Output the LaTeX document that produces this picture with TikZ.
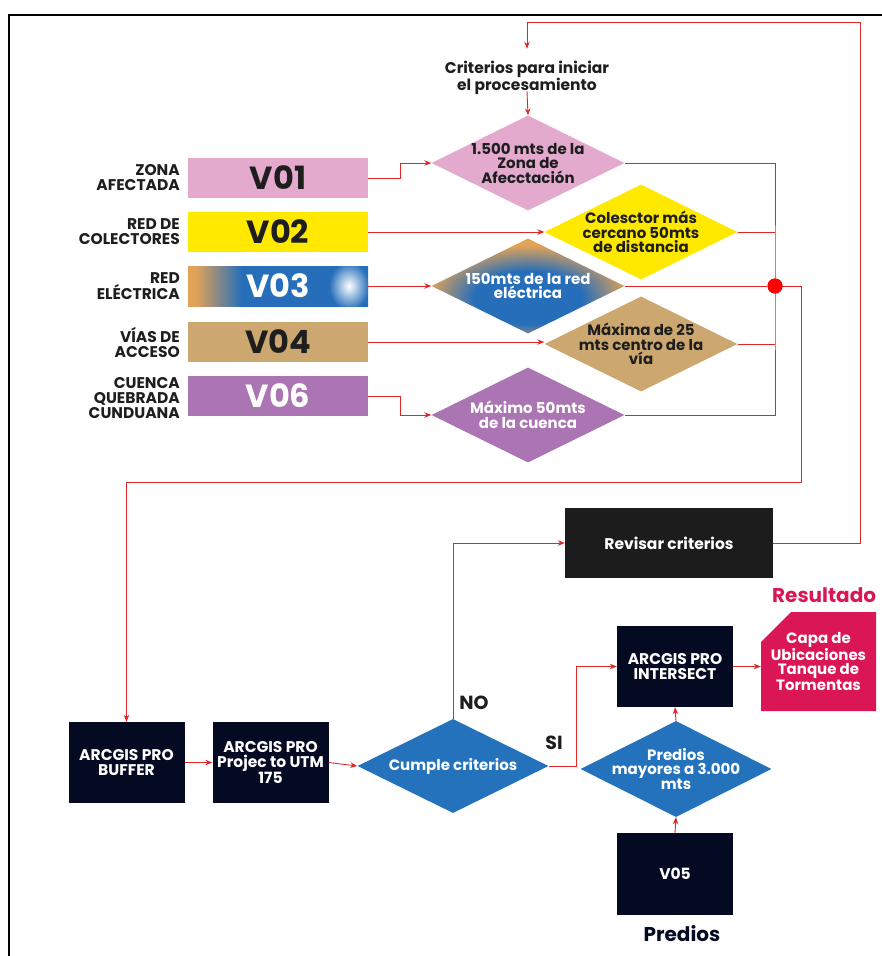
\documentclass[tikz,border=0pt]{standalone}
\usepackage{fontspec}
\setmainfont{Poppins}
\usetikzlibrary{shapes.geometric,arrows.meta}
\definecolor{vpink}{RGB}{228,170,206}
\definecolor{vyellow}{RGB}{255,233,0}
\definecolor{vtan}{RGB}{204,168,112}
\definecolor{vpurple}{RGB}{170,117,178}
\definecolor{vorange}{RGB}{226,162,88}
\definecolor{vblue}{RGB}{38,110,186}
\definecolor{dblue}{RGB}{35,114,187}
\definecolor{navy}{RGB}{5,10,35}
\definecolor{revc}{RGB}{28,28,28}
\definecolor{crim}{RGB}{218,22,84}
\definecolor{lred}{RGB}{222,40,40}
\definecolor{txt}{RGB}{30,30,30}
\pgfdeclarehorizontalshading{vthree}{100bp}{color(0bp)=(vorange); color(27bp)=(vorange); color(40bp)=(vblue); color(100bp)=(vblue)}
\pgfdeclareradialshading{dthree}{\pgfpoint{0bp}{-8bp}}{color(0bp)=(vblue); color(14bp)=(vblue); color(26bp)=(vorange); color(60bp)=(vorange)}
\begin{document}
\begin{tikzpicture}[x=1pt,y=-1pt,
  vbox/.style={rectangle, minimum width=180pt, minimum height=40pt, inner sep=0pt,
    font=\bfseries\fontsize{32}{32}\selectfont},
  lbl/.style={align=right, anchor=east, inner sep=0pt, text=txt,
    font=\bfseries\fontsize{15.5}{15}\selectfont},
  dia/.style={diamond, aspect=2, minimum width=193pt, minimum height=95pt, inner xsep=-14pt, inner ysep=-2pt,
    align=center, text=txt, font=\bfseries\fontsize{15}{14.5}\selectfont},
  bdia/.style={dia, fill=dblue, text=white, font=\bfseries\fontsize{15}{14.5}\selectfont},
  dbox/.style={rectangle, fill=navy, text=white, inner sep=0pt, align=center,
    minimum width=116pt, minimum height=81pt, font=\bfseries\fontsize{15.5}{15}\selectfont},
  ln/.style={draw=lred, line width=0.9pt},
  arr/.style={ln, -{Stealth[length=7pt,width=5.5pt]}},
  big/.style={font=\bfseries\fontsize{20}{20}\selectfont, inner sep=0pt},
  yn/.style={font=\bfseries\fontsize{19}{19}\selectfont, inner sep=0pt, text=txt}
]
\useasboundingbox (0,0) rectangle (882,956);
\draw[line width=1.3pt] (9,956) -- (9,15) -- (882,15);

% criteria header
\node[align=center, inner sep=0pt, text=txt, font=\bfseries\fontsize{15.5}{15}\selectfont] (crit) at (527,78)
  {Criterios para iniciar\\el procesamiento};

% variable boxes
\node[vbox, fill=vpink, text=txt] (v1) at (278,178) {V01};
\node[vbox, fill=vyellow, text=txt] (v2) at (278,232) {V02};
\node[vbox, text=white, path picture={
    \shade[shading=vthree] (path picture bounding box.south west) rectangle (path picture bounding box.north east);
    \shade[inner color=white, outer color=vblue] ([xshift=-19pt]path picture bounding box.east) ellipse (20pt and 24pt);
  }] (v3) at (278,286) {V03};
\node[vbox, fill=vtan, text=txt] (v4) at (278,342) {V04};
\node[vbox, fill=vpurple, text=white] (v6) at (278,396) {V06};

\node[lbl] (l1) at (180,178) {ZONA\\AFECTADA};
\node[lbl] (l2) at (180,232) {RED DE\\COLECTORES};
\node[lbl] (l3) at (180,286) {RED\\ELÉCTRICA};
\node[lbl] (l4) at (180,342) {VÍAS DE\\ACCESO};
\node[lbl] (l6) at (180,398) {CUENCA\\QUEBRADA\\CUNDUANA};

% criteria diamonds
\node[dia, fill=vpink] (d1) at (528,163) {1.500 mts de la\\Zona de\\Afecctación};
\node[dia, fill=vyellow] (d2) at (641,232) {Colesctor más\\cercano 50mts\\de distancia};
\node[dia, text=white, path picture={
    \shade[shading=dthree] (path picture bounding box.south west) rectangle (path picture bounding box.north east);
    \shade[inner color=white, outer color=vblue] (528,322) circle (16pt);
  }] (d3) at (528,286) {150mts de la red\\eléctrica};
\node[dia, fill=vtan] (d4) at (641,344) {Máxima de 25\\mts centro de la\\vía};
\node[dia, fill=vpurple, text=white] (d5) at (528,415) {Máximo 50mts\\de la cuenca};

\node[circle, fill=red, inner sep=0pt, minimum size=15pt] (dot) at (775,286) {};

% connectors top
\draw[arr] (crit.south) ++(0,-4) -- (d1.north);
\draw[arr] (v1.east) -- ++(32,0) |- (d1.west);
\draw[arr] (v2.east) -- (d2.west);
\draw[arr] (v3.east) -- (d3.west);
\draw[arr] (v4.east) -- (v4.east -| d4.west);
\draw[arr] (v6.east) -- ++(32,0) |- (d5.west);
\draw[ln] (d1.east) -| (dot.center) |- (d5.east);
\draw[ln] (d2.east) -- (d2.east -| dot.center);
\draw[ln] (d4.east) -- (d4.east -| dot.center);
\draw[ln] (d3.east) -- (dot);

% bottom nodes
\node[dbox] (buf) at (126.5,762.5) {ARCGIS PRO\\BUFFER};
\node[dbox] (prj) at (270.5,762.5) {ARCGIS PRO\\Projec to UTM\\175};
\node[bdia, minimum width=191pt, minimum height=94pt] (cum) at (453,766) {Cumple criterios};
\node[dbox, fill=revc, minimum width=208pt, minimum height=70pt] (rev) at (669,543) {Revisar criterios};
\node[dbox] (int) at (675,666.5) {ARCGIS PRO\\INTERSECT};
\node[bdia, minimum width=191pt, minimum height=96pt] (pred) at (676,769) {Predios\\mayores a 3.000\\mts};
\node[dbox, minimum height=82pt] (v5) at (675,874) {V05};
\node[rectangle, minimum width=115pt, minimum height=99pt, inner sep=0pt, align=center, text=white,
  font=\bfseries\fontsize{15}{14}\selectfont,
  path picture={\fill[crim] (path picture bounding box.south west) -- (path picture bounding box.south east)
    -- (path picture bounding box.north east) -- ([xshift=30pt]path picture bounding box.north west)
    -- ([yshift=-30pt]path picture bounding box.north west) -- cycle;}] (res) at (818.5,661.5)
  {Capa de\\Ubicaciones\\Tanque de\\Tormentas};

\node[big, text=crim, anchor=west] (rlab) at (772,595) {Resultado};
\node[big, text=navy] (plab) at (682,934) {Predios};
\node[yn] (no) at (474,703) {NO};
\node[yn] (si) at (554,743) {SI};

% bottom connectors
\coordinate (k1) at (801,482);
\coordinate (loopT) at (860,22);
\draw[arr] (dot.center) -| (k1) -| (buf.north);
\draw[arr] (buf.east) -- (prj.west);
\draw[arr] (prj.east) -- (cum.west);
\draw[arr] (cum.north) |- (rev.west);
\draw[arr] (cum.east) -- ++(28,0) |- (int.west);
\draw[arr] (int.east) -- (res.west |- int.east);
\draw[arr] (pred.north) -- (int.south);
\draw[arr] (v5.north) -- (pred.south);
\draw[arr, shorten >=12pt] (rev.east) -| (loopT) -| (crit.north);
\node[circle, fill=red, inner sep=0pt, minimum size=15pt] (dot2) at (dot) {};
\end{tikzpicture}
\end{document}
